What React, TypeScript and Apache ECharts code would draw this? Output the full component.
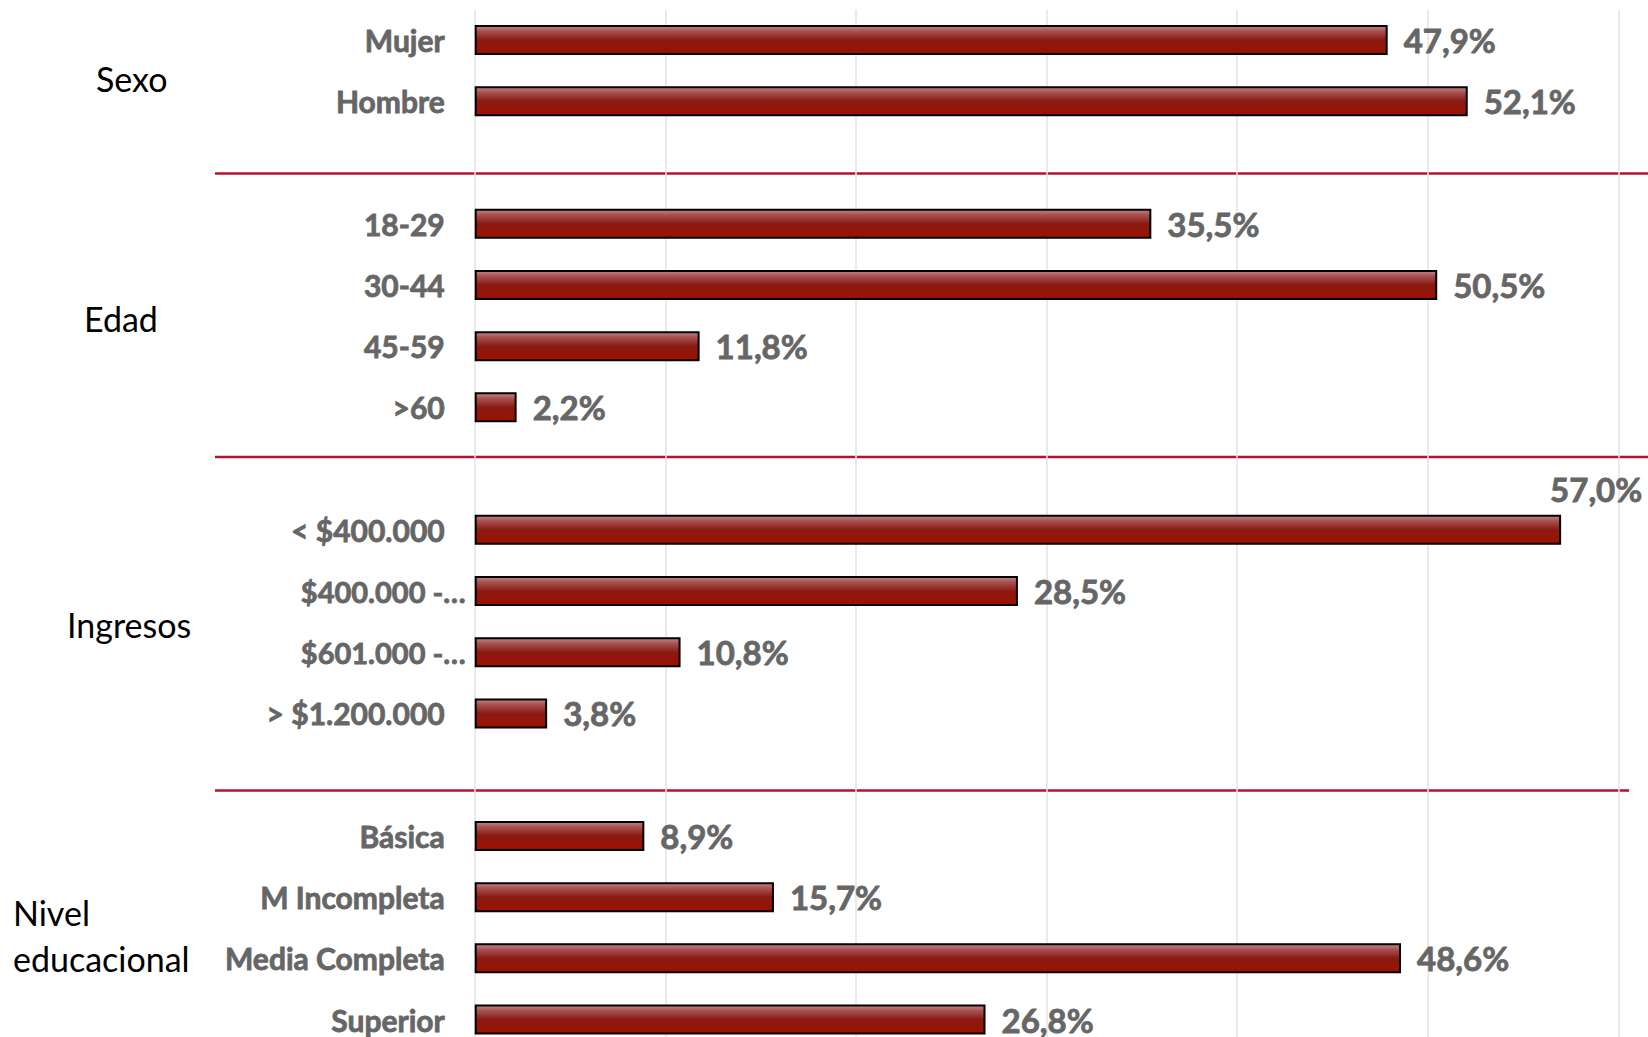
import React, { useEffect, useRef } from "react";
import * as echarts from "echarts";

const sexoCats = ["Mujer", "Hombre"];
const sexoVals = [47.9, 52.1];
const edadCats = ["18-29", "30-44", "45-59", ">60"];
const edadVals = [35.5, 50.5, 11.8, 2.2];
const ingresosCats = ["< $400.000", "$400.000 -…", "$601.000 -…", "> $1.200.000"];
const ingresosVals = [57.0, 28.5, 10.8, 3.8];
const nivelCats = ["Básica", "M Incompleta", "Media Completa", "Superior"];
const nivelVals = [8.9, 15.7, 48.6, 26.8];
const groupNames = ["Sexo", "Edad", "Ingresos", "Nivel\neducacional"];
const axisTicks = [0, 10, 20, 30, 40, 50, 60];

export default function App() {
  const ref = useRef<HTMLDivElement>(null);
  useEffect(() => {
    if (!ref.current) return;
    const chart = echarts.init(ref.current, undefined, { renderer: "svg" });
    const groups = [
      [sexoCats, sexoVals],
      [edadCats, edadVals],
      [ingresosCats, ingresosVals],
      [nivelCats, nivelVals],
    ] as [string[], number[]][];
    const cats: string[] = [];
    const vals: any[] = [];
    groups.forEach(([c, v], gi) => {
      if (gi > 0) {
        cats.push(" ".repeat(gi));
        vals.push("-");
      }
      c.forEach((name, i) => {
        cats.push(name);
        vals.push(v[i]);
      });
    });
    const maxVal = Math.max(...ingresosVals);
    const data = vals.map((v) => {
      if (v === maxVal) {
        return {
          value: v,
          label: { position: "right", distance: 16, offset: [-27, -41] },
        };
      }
      return v;
    });
    const grad = new echarts.graphic.LinearGradient(0, 0, 0, 1, [
      { offset: 0, color: "#c48686" },
      { offset: 0.18, color: "#a85252" },
      { offset: 0.5, color: "#8a1a12" },
      { offset: 1, color: "#9e1000" },
    ]);
    const sepColor = "#b5122e";
    const groupText = (text: string, x: number, y: number) => ({
      type: "text",
      left: x,
      top: y,
      style: {
        text,
        fill: "#000",
        font: "34px Lato",
        lineHeight: 46,
      },
    });
    const labelBase = {
      color: "#666666",
      fontFamily: "Lato",
      fontWeight: "bold",
      fontSize: 30,
      textBorderColor: "#666666",
      textBorderWidth: 0.8,
    };
    chart.setOption({
      animation: false,
      grid: {
        left: 474.7,
        width: 1143.6,
        top: 9.4,
        height: 1040.8,
        outerBoundsMode: "none",
      },
      xAxis: {
        type: "value",
        min: axisTicks[0],
        max: axisTicks[axisTicks.length - 1],
        interval: 10,
        axisLabel: { show: false },
        axisLine: { show: false },
        axisTick: { show: false },
        splitLine: { lineStyle: { color: "#e3e3e3", width: 1.5 } },
      },
      yAxis: {
        type: "category",
        inverse: true,
        data: cats,
        axisLine: { show: false },
        axisTick: { show: false },
        axisLabel: {
          margin: 9,
          ...labelBase,
          formatter: (v: string) =>
            v.endsWith("…") ? `{t|${v}}` : `{n|${v}}`,
          rich: {
            n: { ...labelBase, padding: [0, 21, 0, 0] },
            t: { ...labelBase, fontSize: 29 },
          },
        },
      },
      series: [
        {
          type: "bar",
          data,
          barWidth: 30,
          itemStyle: { color: grad, borderColor: "#000", borderWidth: 2 },
          label: {
            show: true,
            position: "right",
            distance: 16,
            color: "#666666",
            fontFamily: "Lato",
            fontWeight: "bold",
            fontSize: 33,
            textBorderColor: "#666666",
            textBorderWidth: 0.8,
            formatter: (p: any) =>
              Number(p.value).toFixed(1).replace(".", ",") + "%",
          },
        },
      ],
      graphic: [
        { type: "line", shape: { x1: 215, y1: 173.4, x2: 1648, y2: 173.4 }, style: { stroke: sepColor, lineWidth: 2.5 } },
        { type: "line", shape: { x1: 215, y1: 457, x2: 1648, y2: 457 }, style: { stroke: sepColor, lineWidth: 2.5 } },
        { type: "line", shape: { x1: 215, y1: 790.4, x2: 1629, y2: 790.4 }, style: { stroke: sepColor, lineWidth: 2.5 } },
        groupText(groupNames[0], 96, 55),
        groupText(groupNames[1], 84, 295),
        groupText(groupNames[2], 67, 601),
        groupText(groupNames[3], 13, 889),
      ],
    });
    return () => chart.dispose();
  }, []);
  return (
    <div
      ref={ref}
      style={{ position: "absolute", left: 0, top: 0, width: 1648, height: 1037 }}
    />
  );
}
